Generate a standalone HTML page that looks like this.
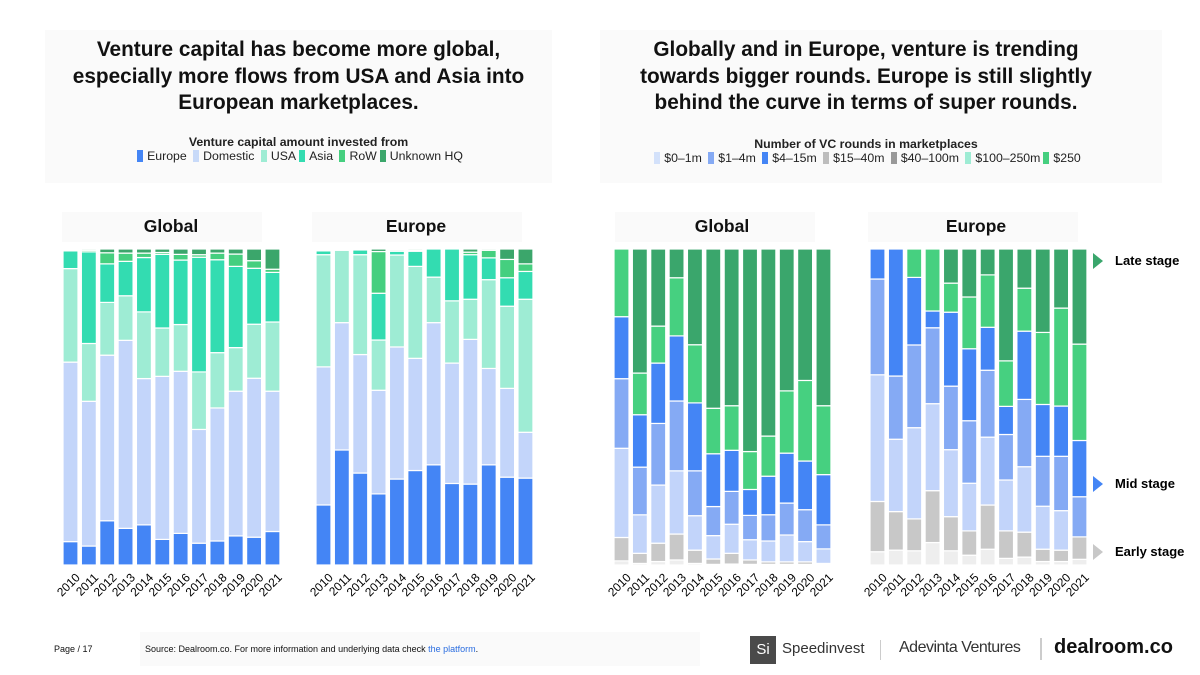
<!DOCTYPE html>
<html><head><meta charset="utf-8"><style>
body{margin:0;width:1200px;height:675px;background:#fff;font-family:"Liberation Sans",sans-serif;position:relative;overflow:hidden;color:#111}
.box{position:absolute;background:#fafafa}
.t{position:absolute;text-align:center;font-weight:bold}
.leg{position:absolute;text-align:center;font-size:12.3px;color:#222;white-space:nowrap}
.sw{display:inline-block;width:6px;height:12px;vertical-align:-2px;margin:0 4px 0 3px}
</style></head><body>
<div class="box" style="left:45px;top:30px;width:507px;height:153px"></div>
<div class="box" style="left:600px;top:30px;width:562px;height:153px"></div>
<div class="t" style="left:35px;top:37px;width:527px;font-size:20.8px;line-height:26.5px">Venture capital has become more global,<br>especially more flows from USA and Asia into<br>European marketplaces.</div>
<div class="t" style="left:590px;top:37px;width:552px;font-size:20.8px;line-height:26.5px">Globally and in Europe, venture is trending<br>towards bigger rounds. Europe is still slightly<br>behind the curve in terms of super rounds.</div>
<div class="leg" style="left:45px;top:135px;width:507px"><b>Venture capital amount invested from</b><br>
<span><i class="sw" style="background:#4485f5"></i>Europe</span> <span><i class="sw" style="background:#c8daf9"></i>Domestic</span> <span><i class="sw" style="background:#9eecd4"></i>USA</span><span><i class="sw" style="background:#33dcb1"></i>Asia</span> <span><i class="sw" style="background:#45cf7f"></i>RoW</span><span><i class="sw" style="background:#3ba66b"></i>Unknown HQ</span></div>
<div class="leg" style="left:600px;top:137px;width:532px"><b>Number of VC rounds in marketplaces</b><br>
<span><i class="sw" style="background:#d3e1fa"></i>$0–1m</span> <span><i class="sw" style="background:#85aaf4"></i>$1–4m</span> <span><i class="sw" style="background:#4485f5"></i>$4–15m</span> <span><i class="sw" style="background:#bdbdbd"></i>$15–40m</span> <span><i class="sw" style="background:#999"></i>$40–100m</span> <span><i class="sw" style="background:#9eecd4"></i>$100–250m</span><span><i class="sw" style="background:#45cf7f"></i>$250</span></div>

<div class="box" style="left:62px;top:212px;width:200px;height:30px"></div>
<div class="box" style="left:312px;top:212px;width:210px;height:30px"></div>
<div class="box" style="left:615px;top:212px;width:200px;height:30px"></div>
<div class="box" style="left:868px;top:212px;width:210px;height:30px"></div>
<div class="t" style="left:71px;top:216px;width:200px;font-size:17.5px">Global</div>
<div class="t" style="left:316px;top:216px;width:200px;font-size:17.5px">Europe</div>
<div class="t" style="left:622px;top:216px;width:200px;font-size:17.5px">Global</div>
<div class="t" style="left:876px;top:216px;width:200px;font-size:17.5px">Europe</div>

<svg id="ch" width="1200" height="675" style="position:absolute;left:0;top:0">
<g font-family="Liberation Sans" font-weight="bold" font-size="13">
<polygon points="1093,253 1103,261 1093,269" fill="#3aa66c"/>
<text x="1115" y="265">Late stage</text>
<polygon points="1093,476 1103,484 1093,492" fill="#4485f5"/>
<text x="1115" y="488">Mid stage</text>
<polygon points="1093,544 1103,552 1093,560" fill="#c8c8c8"/>
<text x="1115" y="556">Early stage</text>
</g>
</svg>

<div>
<div class="box" style="left:140px;top:632px;width:560px;height:34px"></div>
<div style="position:absolute;left:54px;top:644px;font-size:9px">Page / 17</div>
<div style="position:absolute;left:145px;top:644px;font-size:9px">Source: Dealroom.co. For more information and underlying data check <a style="color:#2a6de0">the platform</a>.</div>
<div style="position:absolute;left:750px;top:636px;width:26px;height:28px;background:#4a4a4a;color:#fff;font-size:15px;line-height:28px;text-align:center">Si</div>
<div style="position:absolute;left:782px;top:640px;font-size:15px;color:#333">Speedinvest</div>
<div style="position:absolute;left:880px;top:640px;width:1px;height:20px;background:#ccc"></div>
<div style="position:absolute;left:899px;top:639px;font-size:16px;color:#333;letter-spacing:-0.5px">Adevinta Ventures</div>
<div style="position:absolute;left:1040px;top:638px;width:2px;height:22px;background:#ccc"></div>
<div style="position:absolute;left:1054px;top:636px;font-size:20px;font-weight:bold;color:#111">dealroom.co</div>
</div>

<script>
const years = ["2010","2011","2012","2013","2014","2015","2016","2017","2018","2019","2020","2021"];
const originSeries = ["Europe","Domestic","USA","Asia","RoW","Unknown HQ"];
const originColors = ["#4485f5","#c3d5fa","#9eecd4","#33dcb1","#45cf7f","#3ba66b"];
const globalEurope   = [7.4,6.0,14,11.6,12.7,8.1,10,6.9,7.6,9.2,8.8,10.6];
const globalDomestic = [56.8,45.8,52.4,59.5,46.3,51.6,51.3,36,42.1,45.8,50.3,44.4];
const globalUSA      = [29.6,18.3,16.7,14.1,21.1,15.3,14.8,18.2,17.5,13.8,17.1,21.9];
const globalAsia     = [5.6,29,12.2,10.9,17.2,23.3,20.4,36.3,29.4,25.7,17.7,15.7];
const globalRoW      = [0.3,0.5,3.5,2.6,1.4,0.6,1.8,0.8,2.1,3.9,2.4,1];
const globalUnknown  = [0.3,0.4,1.2,1.3,1.3,1.1,1.7,1.8,1.3,1.6,3.7,6.4];
const euEurope   = [19,36.4,29.1,22.5,27.2,29.9,31.7,25.8,25.6,31.7,27.8,27.5];
const euDomestic = [43.7,40.3,37.5,32.8,41.8,35.5,45,38.1,45.8,30.5,28.1,14.5];
const euUSA      = [35.5,22.9,31.6,15.9,29.1,29.1,14.4,19.7,12.7,28.1,26,42.1];
const euAsia     = [1.2,0.2,1.5,14.8,1.2,4.8,8.9,16.4,14.1,6.9,9,8.8];
const euRoW      = [0.3,0,0.3,13.2,0.4,0.3,0,0,0.8,2.4,5.8,2.4];
const euUnknown  = [0.3,0.2,0,0.8,0.3,0.4,0,0,1,0.4,3.3,4.7];

const sizeBands = ["Band 1","Band 2","Band 3","Band 4","Band 5","Band 6","Band 7"];
const sizeColors = ["#eeeeee","#c8c8c8","#c2d4fa","#85aaf4","#4485f5","#46d080","#3aa66c"];
const gRoundsB1 = [1.3,0.5,1.1,1.6,0.5,0.2,0.3,0.2,0.2,0.2,0.2,0.2];
const gRoundsB2 = [7.4,3.2,5.8,8.2,4.2,1.7,3.4,1.4,0.8,0.8,0.8,0.3];
const gRoundsB3 = [28.2,12.2,18.4,20,10.9,7.4,9.2,6.4,6.6,8.5,6.4,4.6];
const gRoundsB4 = [22,15.1,19.5,22.1,14.2,9.2,10.4,7.7,8.3,10.1,10.1,7.6];
const gRoundsB5 = [19.6,16.6,19.1,20.6,21.5,16.7,13,8.2,12.2,15.8,15.4,15.9];
const gRoundsB6 = [21.4,13.2,11.7,18.4,18.4,14.4,14.1,12,12.7,19.7,25.5,21.8];
const gRoundsB7 = [0,39.3,24.4,9.1,30.3,50.4,49.6,64.1,59.2,44.9,41.6,49.6];
const eRoundsB1 = [4.2,4.7,4.5,7.1,4.5,3.1,5,2.1,2.5,1.1,1.1,1.8];
const eRoundsB2 = [15.9,12.2,10.1,16.4,10.8,7.7,14,8.7,7.9,3.9,3.6,7.1];
const eRoundsB3 = [40.1,22.9,28.9,27.5,21.2,15.1,21.5,16.1,20.7,13.6,12.5,0];
const eRoundsB4 = [30.3,20,26.2,24,20.1,19.8,21.2,14.4,21.3,15.8,17.2,12.7];
const eRoundsB5 = [9.5,40.2,21.4,5.3,23.4,22.8,13.6,8.9,21.6,16.4,15.9,17.8];
const eRoundsB6 = [0,0,9,19.6,9.2,16.4,16.6,14.4,13.6,22.8,31,30.5];
const eRoundsB7 = [0,0,0,0,10.8,15.2,8.2,35.4,12.4,26.4,18.7,30.1];

const TOP = 249, BOT = 565, PITCH = 18.36, BW = 15;
const svg = document.getElementById('ch');
const NS = 'http://www.w3.org/2000/svg';
function yScale(p){ return BOT - (BOT - TOP) * p / 100; }
function xScale(x0, i){ return x0 + i * PITCH; }

function drawChart(name, x0, seriesList, colors, names){
  const g = document.createElementNS(NS, 'g');
  
  
  svg.appendChild(g);
  years.forEach((yr, i) => {
    let tot = 0;
    seriesList.forEach(s => tot += s[i]);
    let cum = 0;
    seriesList.forEach((s, k) => {
      const v = s[i] / tot * 100;
      if (v <= 0) return;
      const y1 = yScale(cum), y2 = yScale(cum + v);
      cum += v;
      const r = document.createElementNS(NS, 'rect');
      r.setAttribute('x', xScale(x0, i));
      r.setAttribute('y', y2);
      r.setAttribute('width', BW);
      r.setAttribute('height', Math.max(0, y1 - y2));
      r.setAttribute('fill', colors[k]);
      r.setAttribute('stroke', '#fff');
      r.setAttribute('stroke-width', '1.2');
      
      
      g.appendChild(r);
    });
    const t = document.createElementNS(NS, 'text');
    const cx = xScale(x0, i) + BW / 2 + 4, cy = 572;
    t.setAttribute('x', cx);
    t.setAttribute('y', cy);
    t.setAttribute('text-anchor', 'end');
    t.setAttribute('font-size', '12');
    t.setAttribute('font-family', 'Liberation Sans, sans-serif');
    t.setAttribute('transform', 'rotate(-45 ' + cx + ' ' + cy + ')');
    t.setAttribute('dominant-baseline', 'hanging');
    t.textContent = yr;
    
    
    g.appendChild(t);
  });
}
drawChart('global-origin-chart', 63, [globalEurope,globalDomestic,globalUSA,globalAsia,globalRoW,globalUnknown], originColors, originSeries);
drawChart('europe-origin-chart', 316, [euEurope,euDomestic,euUSA,euAsia,euRoW,euUnknown], originColors, originSeries);
drawChart('global-rounds-chart', 614, [gRoundsB1,gRoundsB2,gRoundsB3,gRoundsB4,gRoundsB5,gRoundsB6,gRoundsB7], sizeColors, sizeBands);
drawChart('europe-rounds-chart', 870, [eRoundsB1,eRoundsB2,eRoundsB3,eRoundsB4,eRoundsB5,eRoundsB6,eRoundsB7], sizeColors, sizeBands);
</script>
</body></html>
